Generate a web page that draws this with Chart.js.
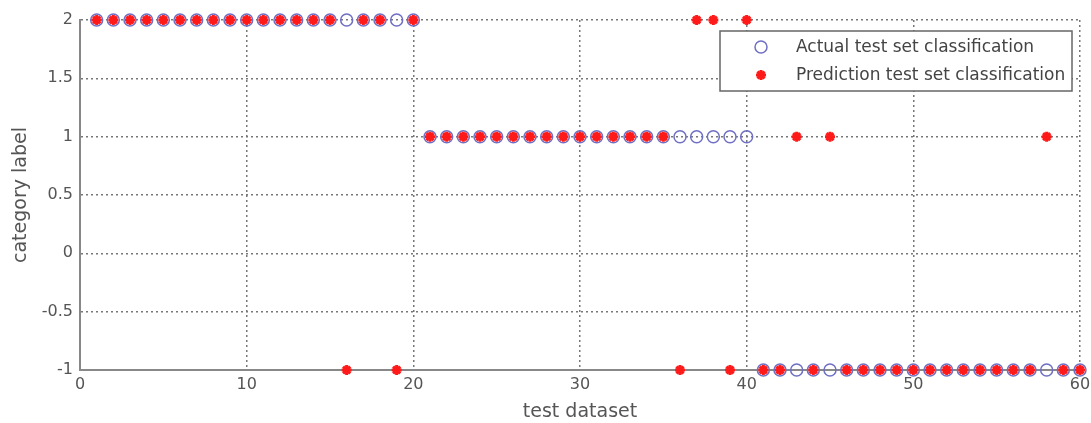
<!DOCTYPE html>
<html>
<head>
<meta charset="utf-8">
<script src="https://cdn.jsdelivr.net/npm/chart.js@4.4.1/dist/chart.umd.min.js"></script>
<style>
  html, body { margin: 0; padding: 0; background: #fff; }
  #wrap { width: 1091px; height: 423px; }
</style>
</head>
<body>
<div id="wrap"><canvas id="classChart"></canvas></div>
<script>
// 実際のクラス（1〜60番目のテストサンプル）
const actualLabels = [
  2, 2, 2, 2, 2, 2, 2, 2, 2, 2, 2, 2, 2, 2, 2, 2, 2, 2, 2, 2,
  1, 1, 1, 1, 1, 1, 1, 1, 1, 1, 1, 1, 1, 1, 1, 1, 1, 1, 1, 1,
  -1, -1, -1, -1, -1, -1, -1, -1, -1, -1, -1, -1, -1, -1, -1, -1, -1, -1, -1, -1
];

// 予測されたクラス
const predictedLabels = [
  2, 2, 2, 2, 2, 2, 2, 2, 2, 2, 2, 2, 2, 2, 2, -1, 2, 2, -1, 2,
  1, 1, 1, 1, 1, 1, 1, 1, 1, 1, 1, 1, 1, 1, 1, -1, 2, 2, -1, 2,
  -1, -1, 1, -1, 1, -1, -1, -1, -1, -1, -1, -1, -1, -1, -1, -1, -1, 1, -1, -1
];

const xTicks = [0, 10, 20, 30, 40, 50, 60];
const yTicks = [-1, -0.5, 0, 0.5, 1, 1.5, 2];

const seriesNames = ['Actual test set classification', 'Prediction test set classification'];

const toPoints = arr => arr.map((v, i) => ({ x: i + 1, y: v }));

const FONT = '"DejaVu Sans", Verdana, sans-serif';
const TEXT = '#555';
const BLUE = '#6f6fc4';
const RED = '#ff1a1a';

// ▼ 右上の凡例（枠つき）
const boxLegend = {
  id: 'boxLegend',
  afterDraw(chart) {
    const c = chart.ctx;
    const x = 720, y = 31, w = 352, h = 60;
    c.save();
    c.fillStyle = '#fff';
    c.fillRect(x, y, w, h);
    c.strokeStyle = '#666';
    c.lineWidth = 1.5;
    c.strokeRect(x, y, w, h);

    // 丸（実際）
    c.strokeStyle = BLUE;
    c.lineWidth = 1.5;
    c.beginPath();
    c.arc(761, 47, 6, 0, Math.PI * 2);
    c.stroke();

    // 星（予測）
    c.strokeStyle = RED;
    c.fillStyle = RED;
    c.lineWidth = 3;
    Chart.helpers.drawPoint(c, { pointStyle: 'star', radius: 5, borderWidth: 3 }, 761, 75);

    c.fillStyle = '#444';
    c.font = '17px ' + FONT;
    c.textBaseline = 'middle';
    c.textAlign = 'left';
    c.fillText(seriesNames[0], 796, 48);
    c.fillText(seriesNames[1], 796, 76);
    c.restore();
  }
};

new Chart(document.getElementById('classChart'), {
  type: 'scatter',
  data: {
    datasets: [
      {
        label: seriesNames[1],
        data: toPoints(predictedLabels),
        pointStyle: 'star',
        pointRadius: 5,
        pointBorderWidth: 3,
        pointBorderColor: RED,
        pointBackgroundColor: RED,
        clip: false
      },
      {
        label: seriesNames[0],
        data: toPoints(actualLabels),
        pointStyle: 'circle',
        pointRadius: 6,
        pointBorderWidth: 1.5,
        pointBorderColor: BLUE,
        pointBackgroundColor: 'rgba(0,0,0,0)',
        clip: false
      }
    ]
  },
  options: {
    responsive: true,
    maintainAspectRatio: false,
    animation: false,
    layout: { padding: { top: 20, right: 11, bottom: 0, left: 0 } },
    plugins: {
      legend: { display: false },
      tooltip: { enabled: false }
    },
    scales: {
      x: {
        type: 'linear',
        min: 0,
        max: 60,
        afterBuildTicks: axis => { axis.ticks = xTicks.map(v => ({ value: v })); },
        afterFit: axis => {
          axis.height = 53;
          // 右端の「60」ははみ出してよい（元図と同じ）
          axis.paddingLeft = 0;
          axis.paddingRight = 0;
        },
        ticks: {
          color: TEXT,
          padding: 5,
          callback: v => String(v),
          font: { family: FONT, size: 16 }
        },
        grid: { color: '#777', lineWidth: 1.5, drawTicks: false },
        border: { color: '#888', width: 2, dash: [2, 3] },
        title: {
          display: true,
          text: 'test dataset',
          color: TEXT,
          padding: { top: 2, bottom: 0 },
          font: { family: FONT, size: 19 }
        }
      },
      y: {
        type: 'linear',
        min: -1,
        max: 2,
        afterBuildTicks: axis => { axis.ticks = yTicks.map(v => ({ value: v })); },
        afterFit: axis => { axis.width = 80; },
        ticks: {
          color: TEXT,
          padding: 7,
          callback: v => String(v),
          font: { family: FONT, size: 16 }
        },
        grid: { color: '#777', lineWidth: 1.5, drawTicks: false },
        border: { color: '#888', width: 2, dash: [2, 3] },
        title: {
          display: true,
          text: 'category label',
          color: TEXT,
          padding: { top: 10, bottom: 0 },
          font: { family: FONT, size: 19 }
        }
      }
    }
  },
  plugins: [boxLegend]
});
</script>
</body>
</html>
